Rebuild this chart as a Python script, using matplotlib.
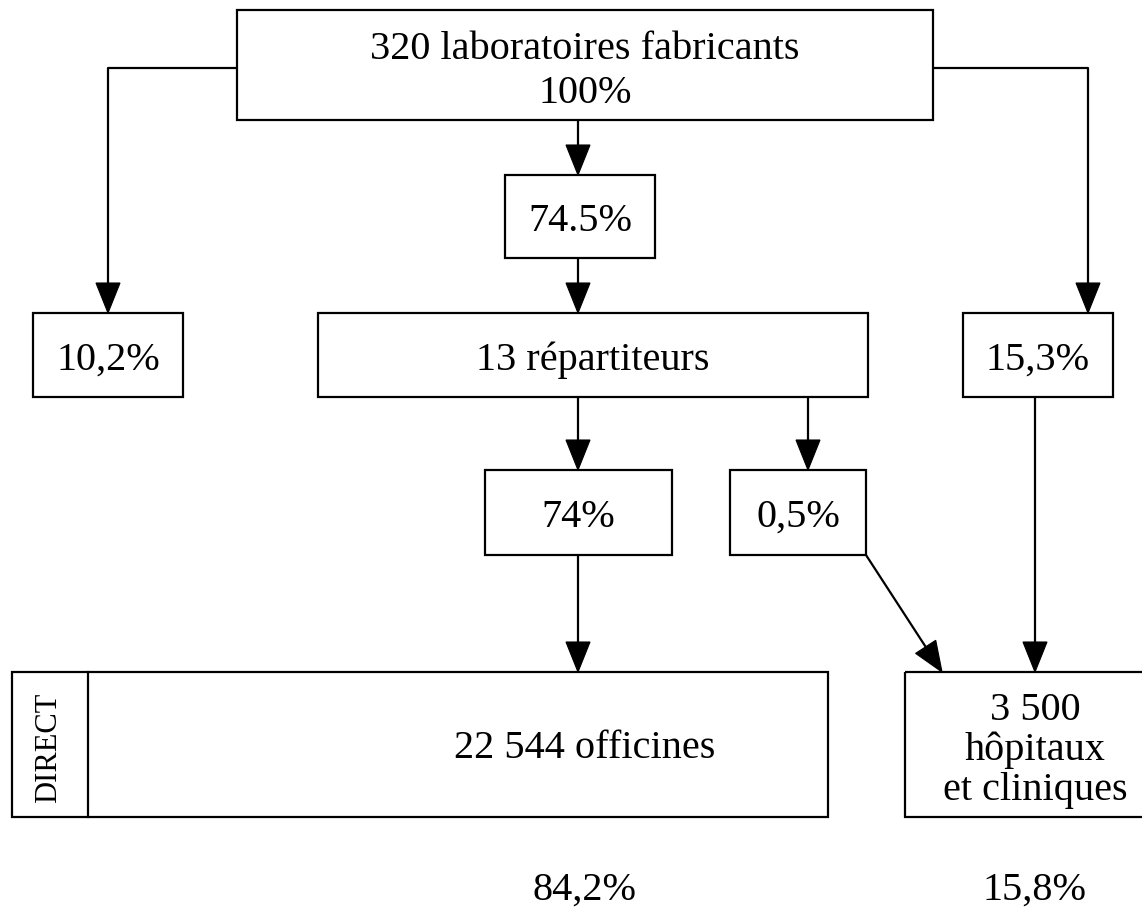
import matplotlib
matplotlib.use("Agg")
import matplotlib.pyplot as plt
from matplotlib.patches import Rectangle, Polygon

# ---- data (texts of the flow chart) ----
top_label = ["320 laboratoires fabricants", "100%"]
mid_share = "74.5%"
direct_pharma = "10,2%"
wholesalers = "13 répartiteurs"
direct_hosp = "15,3%"
wh_to_pharma = "74%"
wh_to_hosp = "0,5%"
pharma_label = "22 544 officines"
direct_tag = "DIRECT"
hosp_label = ["3 500", "hôpitaux", "et cliniques"]
totals = ["84,2%", "15,8%"]

W, H = 1142, 911
fig = plt.figure(figsize=(W / 100, H / 100), dpi=100)
ax = fig.add_axes([0, 0, 1, 1])
ax.set_xlim(0, W)
ax.set_ylim(H, 0)
ax.axis("off")

FONT = "Liberation Serif"
FS = 29
LW = 1.6


def box(x0, y0, x1, y1):
    ax.add_patch(Rectangle((x0, y0), x1 - x0, y1 - y0, fill=False,
                           edgecolor="black", linewidth=LW))


def txt(x, y, s, **kw):
    ax.text(x, y, s, ha="center", va="center_baseline", fontsize=FS,
            family=FONT, color="black", **kw)


def arrow(pts):
    xs = [p[0] for p in pts]
    ys = [p[1] for p in pts]
    (xa, ya), (xb, yb) = pts[-2], pts[-1]
    L = ((xb - xa) ** 2 + (yb - ya) ** 2) ** 0.5
    ux, uy = (xb - xa) / L, (yb - ya) / L
    hl, hw = 30, 12
    bx, by = xb - ux * hl, yb - uy * hl
    ax.plot(xs[:-1] + [bx], ys[:-1] + [by], color="black", lw=LW,
            solid_capstyle="butt")
    ax.add_patch(Polygon([(xb, yb), (bx - uy * hw, by + ux * hw),
                          (bx + uy * hw, by - ux * hw)], closed=True,
                         facecolor="black", edgecolor="black", lw=0.8))


# top box
box(237, 10, 933, 120)
txt(585, 45, top_label[0])
txt(585, 89, top_label[1])

# side branches
arrow([(237, 68), (108, 68), (108, 313)])
arrow([(933, 68), (1088, 68), (1088, 313)])

# centre path
arrow([(578, 120), (578, 175)])
box(505, 175, 655, 258)
txt(580, 217, mid_share)
arrow([(578, 258), (578, 313)])

# second row
box(33, 313, 183, 397)
txt(108, 356, direct_pharma)
box(318, 313, 868, 397)
txt(593, 356, wholesalers)
box(963, 313, 1113, 397)
txt(1038, 356, direct_hosp)

# third row
arrow([(578, 397), (578, 470)])
arrow([(808, 397), (808, 470)])
box(485, 470, 672, 555)
txt(578, 513, wh_to_pharma)
box(730, 470, 866, 555)
txt(798, 513, wh_to_hosp)

# to bottom
arrow([(578, 555), (578, 672)])
arrow([(866, 555), (942, 672)])
arrow([(1035, 397), (1035, 672)])

# bottom boxes
box(12, 672, 828, 817)
ax.plot([88, 88], [672, 817], color="black", lw=LW)
ax.text(49, 748, direct_tag, ha="center", va="center", fontsize=22,
        family=FONT, rotation=90)
txt(585, 744, pharma_label)

ax.add_patch(Rectangle((905, 672), 300, 145, fill=False,
                       edgecolor="black", linewidth=LW, clip_on=True))
txt(1035, 706, hosp_label[0])
txt(1035, 746, hosp_label[1])
txt(1035, 786, hosp_label[2])

txt(585, 886, totals[0])
txt(1035, 886, totals[1])

fig.savefig("out.png", dpi=100, facecolor="white")
